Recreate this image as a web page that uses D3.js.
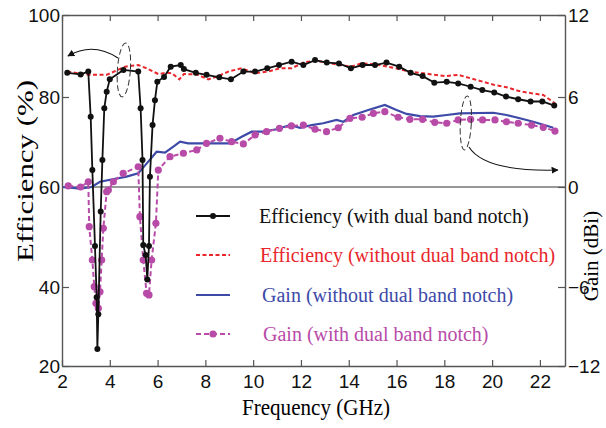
<!DOCTYPE html>
<html>
<head>
<meta charset="utf-8">
<script src="https://cdn.jsdelivr.net/npm/d3@7"></script>
<style>
  body { margin: 0; background: #fff; }
  svg { display: block; }
</style>
</head>
<body>
<div id="chart"></div>
<script>
// Efficiency (with dual band notch)
const effNotchFreq = [2.22, 2.78, 3.1, 3.2, 3.27, 3.38, 3.45, 3.48, 3.52, 3.62, 3.69, 3.77, 3.87, 4.0, 4.57, 5.19, 5.29, 5.37, 5.4, 5.5, 5.57, 5.64, 5.68, 5.79, 5.89, 5.99, 6.27, 6.55, 6.97, 7.1, 7.6, 8.05, 8.58, 9.07, 9.59, 10.08, 10.59, 11.08, 11.61, 12.1, 12.59, 13.08, 13.59, 14.09, 14.58, 15.1, 15.58, 16.11, 16.59, 17.09, 17.58, 18.1, 18.58, 19.1, 19.59, 20.09, 20.58, 21.09, 21.61, 22.1, 22.6];
const effNotchVal = [85.9, 85.5, 86.2, 75.6, 63.8, 48.2, 37.4, 24.3, 33.1, 55.1, 66.0, 77.5, 81.3, 84.3, 86.6, 86.2, 77.5, 66.0, 48.4, 46.4, 41.5, 48.2, 62.3, 73.8, 79.3, 83.7, 84.9, 87.4, 87.8, 86.8, 85.9, 85.4, 84.8, 84.3, 86.2, 86.2, 87.0, 87.8, 88.6, 87.8, 89.0, 88.4, 88.2, 87.0, 87.8, 87.8, 88.4, 87.4, 85.9, 85.1, 83.5, 83.7, 83.3, 82.5, 81.7, 81.1, 80.1, 79.5, 79.0, 79.0, 78.1];

// Efficiency (without dual band notch)
const effFreq = [2.22, 3.1, 3.87, 4.64, 5.19, 5.54, 6.03, 6.38, 6.6, 6.91, 7.1, 7.64, 8.12, 8.54, 8.96, 9.52, 10.08, 10.63, 11.12, 11.61, 12.1, 12.59, 13.08, 13.63, 14.1, 14.54, 15.1, 15.65, 16.1, 16.56, 17.12, 17.6, 18.03, 18.58, 19.07, 19.63, 20.12, 20.6, 21.09, 21.65, 22.14, 22.63];
const effVal = [86.2, 85.4, 85.4, 87.4, 87.8, 87.0, 85.6, 85.9, 85.8, 84.3, 85.6, 85.5, 84.3, 85.1, 86.2, 87.0, 85.8, 86.2, 87.0, 87.0, 88.4, 88.9, 88.4, 87.8, 87.4, 88.2, 88.0, 87.4, 86.8, 86.2, 85.8, 85.4, 85.1, 85.4, 84.6, 83.7, 82.9, 82.4, 81.5, 80.9, 80.5, 78.6];

// Gain (without dual band notch)
const gainFreq = [2.05, 2.75, 3.24, 3.59, 4.7, 5.19, 5.61, 5.96, 6.31, 6.66, 6.94, 7.28, 7.77, 9.03, 9.52, 9.94, 10.42, 10.98, 11.54, 11.96, 12.45, 12.93, 13.49, 13.78, 14.19, 14.82, 15.51, 16.0, 16.42, 16.98, 17.54, 18.1, 18.65, 20.05, 20.6, 21.16, 21.72, 22.56];
const gainVal = [0, -0.1, 0, 0.35, 0.69, 0.91, 1.69, 2.35, 2.29, 2.69, 3.02, 2.91, 2.91, 2.91, 3.35, 3.69, 3.69, 3.85, 4.13, 3.95, 4.13, 4.25, 4.47, 4.35, 4.8, 5.13, 5.47, 5.13, 4.87, 4.73, 4.69, 4.8, 4.91, 4.95, 4.8, 4.58, 4.35, 3.95];

// Gain (with dual band notch)
const gainNotchFreq = [2.26, 2.78, 3.1, 3.14, 3.27, 3.35, 3.42, 3.52, 3.59, 3.66, 3.73, 3.87, 3.94, 4.15, 4.56, 5.19, 5.26, 5.4, 5.54, 5.64, 5.75, 5.93, 6.03, 6.52, 7.08, 7.64, 8.05, 8.61, 9.1, 9.59, 10.08, 10.56, 11.1, 11.6, 12.1, 12.59, 13.07, 13.56, 14.05, 14.56, 15.03, 15.51, 16.07, 16.56, 17.09, 17.6, 18.1, 18.58, 19.1, 19.6, 20.12, 20.6, 21.09, 21.65, 22.14, 22.63];
const gainNotchVal = [0.07, 0, 0.35, -2.38, -4.38, -5.98, -7.24, -7.62, -6.36, -4.38, -2.48, -0.28, -0.18, 0.35, 0.91, 1.35, -1.78, -4.38, -6.48, -6.6, -4.38, -2.18, 1.13, 2.02, 2.25, 2.47, 2.91, 3.25, 3.02, 2.87, 3.47, 3.69, 3.91, 4.07, 4.13, 3.85, 3.69, 3.95, 4.58, 4.65, 4.91, 5.02, 4.65, 4.51, 4.51, 4.31, 4.25, 4.47, 4.51, 4.47, 4.47, 4.35, 4.25, 4.13, 3.98, 3.73];

const freqTicks = [2, 4, 6, 8, 10, 12, 14, 16, 18, 20, 22];
const effTicks = [20, 40, 60, 80, 100];
const gainTicks = [-12, -6, 0, 6, 12];

const legendLabels = [
    "Efficiency (with dual band notch)",
    "Efficiency (without dual band notch)",
    "Gain (without dual band notch)",
    "Gain (with dual band notch)"
];

const width = 606, height = 428;
const plotLeft = 62, plotRight = 565, plotTop = 15, plotBottom = 366;

const svg = d3.select("#chart").append("svg")
    .attr("width", width)
    .attr("height", height);

const x = d3.scaleLinear().domain([2, 23.05]).range([plotLeft, plotRight]);
// the picture's vertical axis is not evenly spaced, so map it piece by piece
const yEff = d3.scaleLinear().domain(effTicks).range([366, 287, 187, 97, 15]);
const yGain = d3.scaleLinear().domain(gainTicks).range([366, 287, 187, 97, 15]);

const black = "#111", red = "#e8262b", blue = "#3d4aa8", magenta = "#b84ba8";
const axisColor = "#555";
const tickFont = "'Liberation Sans Narrow', 'Arial Narrow', 'Liberation Sans', Arial, sans-serif";
const serif = "'Liberation Serif', 'Times New Roman', serif";

// zero gain line
svg.append("line")
    .attr("x1", plotLeft).attr("x2", plotRight)
    .attr("y1", yGain(0)).attr("y2", yGain(0))
    .attr("stroke", "#333").attr("stroke-width", 1.2);

function styleAxis(g) {
    g.select(".domain").attr("stroke", axisColor).attr("stroke-width", 1.4);
    g.selectAll(".tick line").attr("stroke", axisColor).attr("stroke-width", 1.2);
    g.selectAll(".tick text").attr("fill", "#111")
        .style("font-family", tickFont).style("font-size", "19px");
}

svg.append("g").attr("transform", `translate(0,${plotBottom})`)
    .call(d3.axisBottom(x).tickValues(freqTicks).tickSize(-6).tickPadding(9).tickSizeOuter(0))
    .call(styleAxis);
svg.append("g").attr("transform", `translate(0,${plotTop})`)
    .call(d3.axisTop(x).tickValues(freqTicks).tickSize(-6).tickFormat("").tickSizeOuter(0))
    .call(styleAxis);
svg.append("g").attr("transform", `translate(${plotLeft},0)`)
    .call(d3.axisLeft(yEff).tickValues(effTicks).tickSize(-7).tickPadding(2).tickSizeOuter(0))
    .call(styleAxis);
svg.append("g").attr("transform", `translate(${plotRight},0)`)
    .call(d3.axisRight(yGain).tickValues(gainTicks).tickSize(-7).tickPadding(3).tickSizeOuter(0))
    .call(styleAxis);

// helpers
const zip = (fs, vs) => fs.map((f, i) => [f, vs[i]]);
const lineEff = d3.line().x(d => x(d[0])).y(d => yEff(d[1]));
const lineGain = d3.line().x(d => x(d[0])).y(d => yGain(d[1]));

const effNotch = zip(effNotchFreq, effNotchVal);
const effPlain = zip(effFreq, effVal);
const gainPlain = zip(gainFreq, gainVal);
const gainNotch = zip(gainNotchFreq, gainNotchVal);

svg.append("path").datum(gainPlain)
    .attr("d", lineGain).attr("fill", "none")
    .attr("stroke", blue).attr("stroke-width", 2.2);

svg.append("path").datum(gainNotch)
    .attr("d", lineGain).attr("fill", "none")
    .attr("stroke", magenta).attr("stroke-width", 2)
    .attr("stroke-dasharray", "5,3");
svg.append("g").selectAll("circle").data(gainNotch).enter().append("circle")
    .attr("cx", d => x(d[0])).attr("cy", d => yGain(d[1]))
    .attr("r", 3.6).attr("fill", magenta);

svg.append("path").datum(effPlain)
    .attr("d", lineEff).attr("fill", "none")
    .attr("stroke", red).attr("stroke-width", 2)
    .attr("stroke-dasharray", "4,2.5");

svg.append("path").datum(effNotch)
    .attr("d", lineEff).attr("fill", "none")
    .attr("stroke", black).attr("stroke-width", 1.8);
svg.append("g").selectAll("circle").data(effNotch).enter().append("circle")
    .attr("cx", d => x(d[0])).attr("cy", d => yEff(d[1]))
    .attr("r", 3).attr("fill", black);

// annotations: dashed ellipses with arrows pointing to each axis
const defs = svg.append("defs");
defs.append("marker")
    .attr("id", "arrowhead")
    .attr("viewBox", "0 -5 10 10")
    .attr("refX", 9).attr("refY", 0)
    .attr("orient", "auto")
    .attr("markerWidth", 7).attr("markerHeight", 7)
    .attr("markerUnits", "userSpaceOnUse")
    .append("path").attr("d", "M0,-5L10,0L0,5Z").attr("fill", "#111");

svg.append("ellipse")
    .attr("transform", `translate(${x(4.59)},${yEff(86.6)}) rotate(4)`)
    .attr("rx", 6.5).attr("ry", 27)
    .attr("fill", "none").attr("stroke", "#333").attr("stroke-width", 1)
    .attr("stroke-dasharray", "6,3");
svg.append("path")
    .attr("d", `M${x(4.34)},${yEff(89.5)} Q${x(3.3)},${yEff(93.5)} ${x(2.25)},${yEff(90.0)}`)
    .attr("fill", "none").attr("stroke", "#111").attr("stroke-width", 1.1)
    .attr("marker-end", "url(#arrowhead)");

svg.append("ellipse")
    .attr("transform", `translate(${x(18.9)},${yGain(4.27)}) rotate(3)`)
    .attr("rx", 5.5).attr("ry", 27)
    .attr("fill", "none").attr("stroke", "#333").attr("stroke-width", 1)
    .attr("stroke-dasharray", "6,3");
svg.append("path")
    .attr("d", `M${x(19.03)},${yGain(2.67)} Q${x(19.7)},${yGain(1.0)} ${x(22.75)},${yGain(1.13)}`)
    .attr("fill", "none").attr("stroke", "#111").attr("stroke-width", 1.1)
    .attr("marker-end", "url(#arrowhead)");

// legend
const legendRows = [
    {y: 216, color: black, dash: null, marker: 3, tx: 259},
    {y: 255, color: red, dash: "4,2.5", marker: 0, tx: 260},
    {y: 295, color: blue, dash: null, marker: 0, tx: 262},
    {y: 334, color: magenta, dash: "5,3", marker: 3.6, tx: 263}
];
const legend = svg.append("g");
legendRows.forEach((r, i) => {
    legend.append("line")
        .attr("x1", 196).attr("x2", 230).attr("y1", r.y).attr("y2", r.y)
        .attr("stroke", r.color).attr("stroke-width", 2)
        .attr("stroke-dasharray", r.dash);
    if (r.marker) {
        legend.append("circle").attr("cx", 213).attr("cy", r.y)
            .attr("r", r.marker).attr("fill", r.color);
    }
    legend.append("text")
        .attr("x", r.tx).attr("y", r.y).attr("dy", "0.33em")
        .attr("fill", r.color)
        .style("font-family", serif).style("font-size", "20px")
        .text(legendLabels[i]);
});

// axis titles
svg.append("text")
    .attr("transform", "translate(25,171) rotate(-90)")
    .attr("text-anchor", "middle").attr("dy", "0.35em")
    .attr("textLength", 182).attr("lengthAdjust", "spacingAndGlyphs")
    .style("font-family", serif).style("font-size", "23px")
    .text("Efficiency (%)");
svg.append("text")
    .attr("transform", "translate(591,256) rotate(-90)")
    .attr("text-anchor", "middle").attr("dy", "0.35em")
    .style("font-family", serif).style("font-size", "21px")
    .text("Gain (dBi)");
svg.append("text")
    .attr("x", 316).attr("y", 415)
    .attr("text-anchor", "middle")
    .attr("textLength", 148).attr("lengthAdjust", "spacingAndGlyphs")
    .style("font-family", serif).style("font-size", "23px")
    .text("Frequency (GHz)");
</script>
</body>
</html>
